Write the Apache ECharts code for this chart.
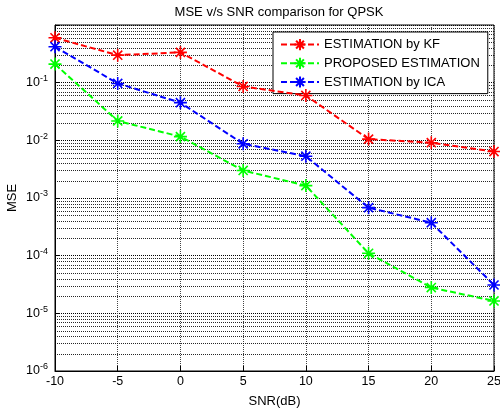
<!DOCTYPE html>
<html><head><meta charset="utf-8">
<script src="https://cdn.jsdelivr.net/npm/echarts@6/dist/echarts.min.js"></script>
<style>html,body{margin:0;padding:0;background:#fff}#c{width:500px;height:410px}</style>
</head><body><div id="c"></div>
<script>
var snr = [-10, -5, 0, 5, 10, 15, 20, 25];
var mseKF = [0.6, 0.30, 0.335, 0.086, 0.060, 0.0105, 0.0091, 0.0064];
var mseProposed = [0.21, 0.0217, 0.0116, 0.0030, 0.00164, 0.00011, 0.000028, 0.0000164];
var mseICA = [0.42, 0.097, 0.045, 0.0087, 0.0053, 0.00068, 0.000373, 0.000031];
var seriesNames = ['ESTIMATION by KF', 'PROPOSED ESTIMATION', 'ESTIMATION by ICA'];
var seriesColors = ['#ff0000', '#00ff00', '#0000ff'];

var minorVals = [];
for (var e = -6; e < 0; e++) for (var m = 2; m <= 9; m++) minorVals.push(m * Math.pow(10, e));

var star = 'path://M0,5L10,5M5,0L5,10M1.5,1.5L8.5,8.5M8.5,1.5L1.5,8.5';
var FONT = '"Liberation Sans", Arial, sans-serif';

function mk(name, vals, color) {
  return {
    name: name, type: 'line',
    data: snr.map(function (x, i) { return [x, vals[i]]; }),
    symbol: star, symbolSize: 13,
    itemStyle: { color: color, borderColor: color, borderWidth: 1.6 },
    lineStyle: { color: color, width: 2, type: [6, 3] },
    z: 5
  };
}

var chart = echarts.init(document.getElementById('c'), null, { renderer: 'canvas' });
chart.setOption({
  animation: false,
  backgroundColor: '#fff',
  title: { text: 'MSE v/s SNR comparison for QPSK', left: 274, textAlign: 'center', top: 1,
    textStyle: { fontSize: 13, fontWeight: 'normal', color: '#000', fontFamily: FONT } },
  grid: { left: 55, right: 6, top: 25, bottom: 39, outerBoundsMode: 'none', containLabel: false,
    show: true, borderColor: '#000', borderWidth: 1, backgroundColor: 'transparent' },
  legend: {
    orient: 'vertical', left: 273, top: 32,
    data: seriesNames,
    itemWidth: 38, itemHeight: 14, itemGap: 5.5,
    padding: [6, 8, 5, 7],
    backgroundColor: '#fff', borderColor: '#000', borderWidth: 1,
    textStyle: { fontSize: 13, color: '#000', fontFamily: FONT }
  },
  xAxis: {
    type: 'value', min: -10, max: 25, interval: 5,
    name: 'SNR(dB)', nameLocation: 'middle', nameGap: 24, nameMoveOverlap: false,
    nameTextStyle: { fontSize: 13, color: '#000', fontFamily: FONT },
    axisLine: { show: true, onZero: false, lineStyle: { color: '#000' } },
    axisTick: { show: true, inside: true, length: 5, lineStyle: { color: '#000' } },
    axisLabel: { fontSize: 12.5, color: '#000', fontFamily: FONT, margin: 4 },
    splitLine: { show: true, lineStyle: { color: '#444', type: [1, 1], width: 1 } }
  },
  yAxis: {
    type: 'log', logBase: 10, min: 1e-6, max: 1,
    name: 'MSE', nameLocation: 'middle', nameGap: 36, nameMoveOverlap: false,
    nameTextStyle: { fontSize: 13, color: '#000', fontFamily: FONT },
    axisLine: { show: true, onZero: false, lineStyle: { color: '#000' } },
    axisTick: { show: true, inside: true, length: 5, lineStyle: { color: '#000' } },
    axisLabel: {
      color: '#000', fontFamily: FONT, margin: 7,
      formatter: function (v) {
        var ex = Math.round(Math.log10(v));
        if (ex === 0) return '';
        return '{b|10}{s|' + ex + '}';
      },
      rich: {
        b: { fontSize: 12.5, color: '#000', fontFamily: FONT },
        s: { fontSize: 9, color: '#000', fontFamily: FONT, padding: [0, 0, 8, 0] }
      }
    },
    splitLine: { show: true, lineStyle: { color: '#000', type: [1, 1], width: 1 } }
  },
  series: [
    {
      name: 'minor', type: 'custom', silent: true, z: 1,
      data: minorVals.map(function (v) { return [-10, v]; }),
      encode: { x: 0, y: 1 },
      renderItem: function (params, api) {
        var v = api.value(1);
        var p1 = api.coord([-10, v]);
        var p2 = api.coord([25, v]);
        var y = Math.round(p1[1]) + 0.5;
        return { type: 'line', shape: { x1: p1[0], y1: y, x2: p2[0], y2: y },
          style: { stroke: '#000', lineDash: [1, 1], lineWidth: 1, opacity: 0.85 } };
      }
    },
    mk(seriesNames[0], mseKF, seriesColors[0]),
    mk(seriesNames[1], mseProposed, seriesColors[1]),
    mk(seriesNames[2], mseICA, seriesColors[2])
  ]
});
</script></body></html>
